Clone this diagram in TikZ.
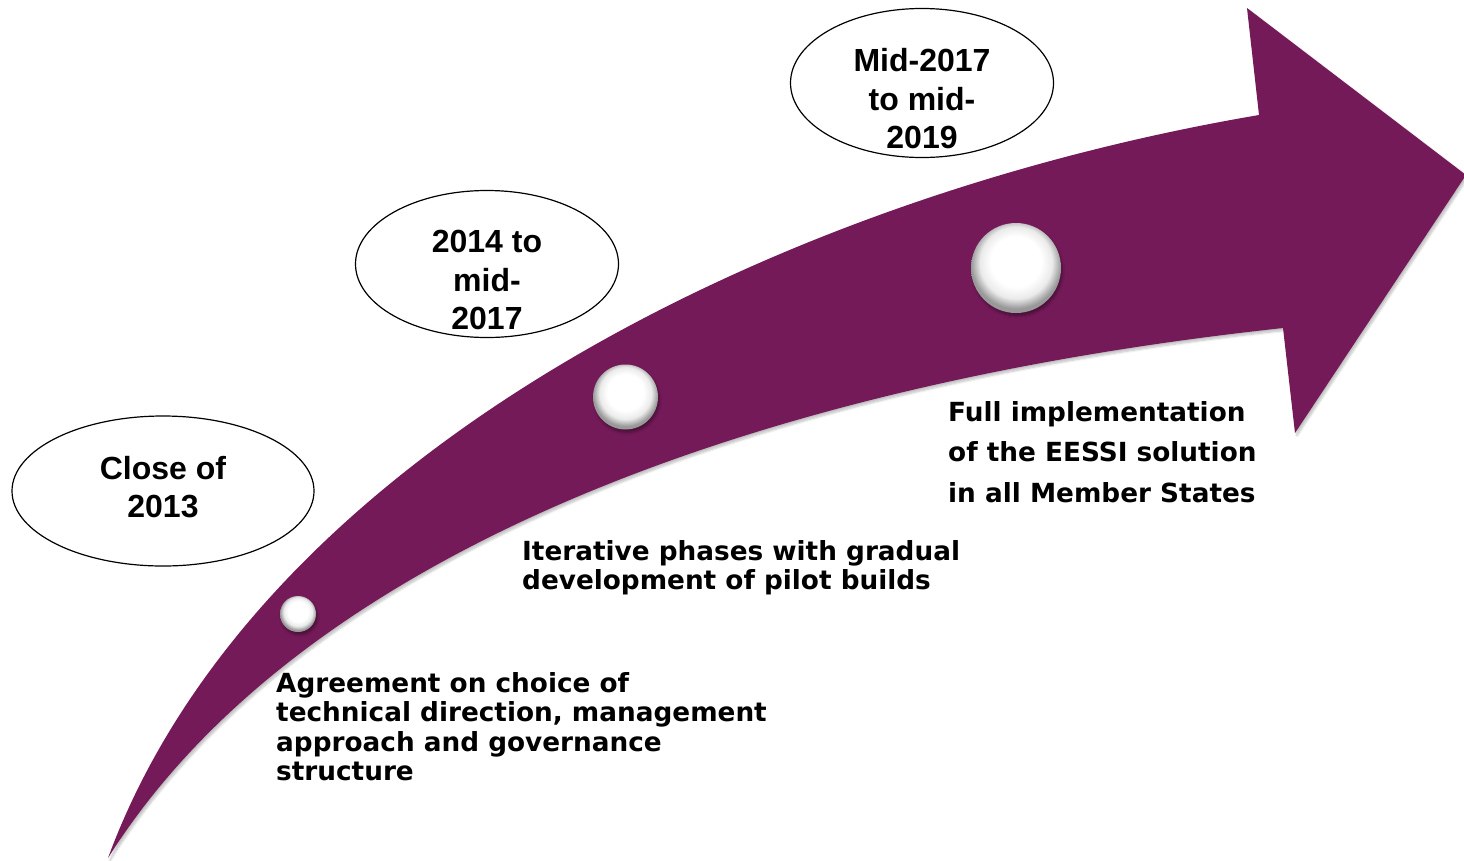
\documentclass[tikz,border=0pt]{standalone}
\usepackage{fontspec}
\setmainfont{DejaVu Sans}
\newfontfamily\ellfont{Liberation Sans}
\usetikzlibrary{shapes.geometric,shadows.blur}
\definecolor{arrowpurple}{HTML}{741A59}
\pgfdeclareradialshading{pearl}{\pgfpoint{0bp}{5bp}}{color(0bp)=(white); color(14bp)=(white); color(20bp)=(black!8); color(25bp)=(black!40); color(50bp)=(black!40)}
\tikzset{
  ellbox/.style={ellipse, draw=black, line width=1.2pt, fill=white, inner sep=0pt},
  elltext/.style={align=center, inner sep=0pt, font=\ellfont\bfseries\fontsize{32}{38.5}\selectfont},
  desc/.style={align=left, anchor=north west, inner sep=0pt, font=\bfseries\fontsize{26.3}{29.5}\selectfont},
  ball/.style={circle, inner sep=0pt, shading=pearl,
    blur shadow={shadow xshift=1.5pt, shadow yshift=-3pt, shadow opacity=35, shadow blur steps=6}},
}
\begin{document}
\begin{tikzpicture}[x=1pt,y=-1pt]
\useasboundingbox (0,0) rectangle (1464,860);
% arrow
\coordinate (tail) at (108,858);
\coordinate (uj) at (1259,115);
\coordinate (ub) at (1247,8);
\coordinate (tip) at (1466,175);
\coordinate (lb) at (1295,433);
\coordinate (lj) at (1283,328);
\fill[arrowpurple, blur shadow={shadow xshift=2pt, shadow yshift=-2.5pt, shadow opacity=25, shadow blur steps=6}]
  (tail) .. controls (253,464) and (760,200) .. (uj)
  -- (ub) -- (tip) -- (lb) -- (lj)
  .. controls (736,387) and (294,562) .. (tail) -- cycle;
% balls
\node[ball, minimum size=36pt] (b1) at (298,614) {};
\node[ball, minimum size=65pt] (b2) at (625.5,397) {};
\node[ball, minimum size=90pt] (b3) at (1016,268) {};
% ellipses
\node[ellbox, minimum width=302pt, minimum height=150pt] (e1) at (163,491) {};
\node[ellbox, minimum width=263pt, minimum height=147pt] (e2) at (487,264) {};
\node[ellbox, minimum width=263pt, minimum height=149pt] (e3) at (922,83) {};
\node[elltext] (t1) at (163,487) {Close of\\2013};
\node[elltext] (t2) at (487,280) {2014 to\\mid-\\2017};
\node[elltext] (t3) at (922,99) {Mid-2017\\to mid-\\2019};
% descriptions
\node[desc] (d1) at (276,672) {Agreement on choice of\\technical direction, management\\approach and governance\\structure};
\node[desc] (d2) at (522,540) {Iterative phases with gradual\\development of pilot builds};
\node[desc, font=\bfseries\fontsize{26.3}{40.5}\selectfont] (d3) at (948,401) {Full implementation\\of the EESSI solution\\in all Member States};
\end{tikzpicture}
\end{document}
